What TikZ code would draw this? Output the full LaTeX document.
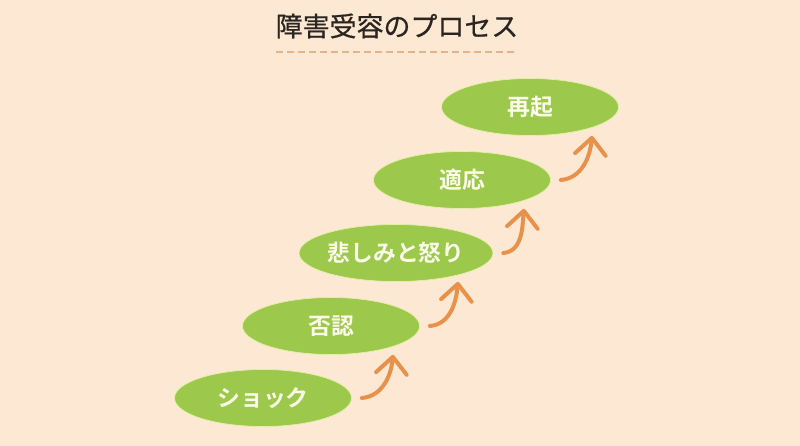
\documentclass[tikz,border=0pt]{standalone}
\usepackage{fontspec}
\setmainfont{Noto Sans CJK JP}
\newfontfamily\jpbold{Noto Sans CJK JP Bold}
\newfontfamily\titlefont[FakeBold=0.6]{Noto Sans CJK JP}
\usetikzlibrary{shapes.geometric,arrows.meta}
\definecolor{bgpeach}{HTML}{FCE8D3}
\definecolor{leafgreen}{HTML}{9CC84C}
\definecolor{leafedge}{HTML}{E6EFA8}
\definecolor{arroworange}{HTML}{E8914A}
\definecolor{dashtan}{HTML}{E3B589}
\definecolor{titleink}{HTML}{2A2521}
\definecolor{stagetext}{HTML}{FDFBEA}
\tikzset{
    stage/.style={ellipse, fill=leafgreen, draw=leafedge, line width=0.6pt, inner sep=0pt,
        minimum width=5.31cm, minimum height=1.71cm, text=stagetext, font=\jpbold\fontsize{19.5}{22}\selectfont},
    uparrow/.style={draw=arroworange, line width=3.4pt, line cap=round,
        -{Straight Barb[length=0.5cm, width=0.92cm, round]}}
}
\begin{document}
\begin{tikzpicture}[x=0.03cm, y=-0.03cm]
        %background
        \fill[bgpeach] (0,0) rectangle (800,446);
        %title with dashed underline
        \node[text=titleink, font=\titlefont\fontsize{23}{26}\selectfont] (title) at (397,26) {障害受容のプロセス};
        \coordinate (lineL) at (276,52);
        \coordinate (lineR) at (518,52);
        \draw[dashtan, line width=1.3pt, dash pattern=on 5.8pt off 3.6pt] (lineL) -- (lineR);

        %the five stages
        \node[stage] (shock) at (263,398) {ショック};
        \node[stage] (denial) at (331,326) {否認};
        \node[stage] (grief) at (396,253) {悲しみと怒り};
        \node[stage] (adapt) at (462,180) {適応};
        \node[stage] (rise) at (530,107) {再起};

        %arrows between stages
        \draw[uparrow] ([xshift=0.3cm]shock.east) to[out=5, in=-95] ([xshift=1.86cm]denial.south);
        \draw[uparrow] ([xshift=0.3cm]denial.east) to[out=5, in=-95] ([xshift=1.86cm]grief.south);
        \draw[uparrow] ([xshift=0.3cm]grief.east) to[out=5, in=-95] ([xshift=1.86cm]adapt.south);
        \draw[uparrow] ([xshift=0.3cm]adapt.east) to[out=5, in=-95] ([xshift=1.86cm]rise.south);
\end{tikzpicture}
\end{document}
